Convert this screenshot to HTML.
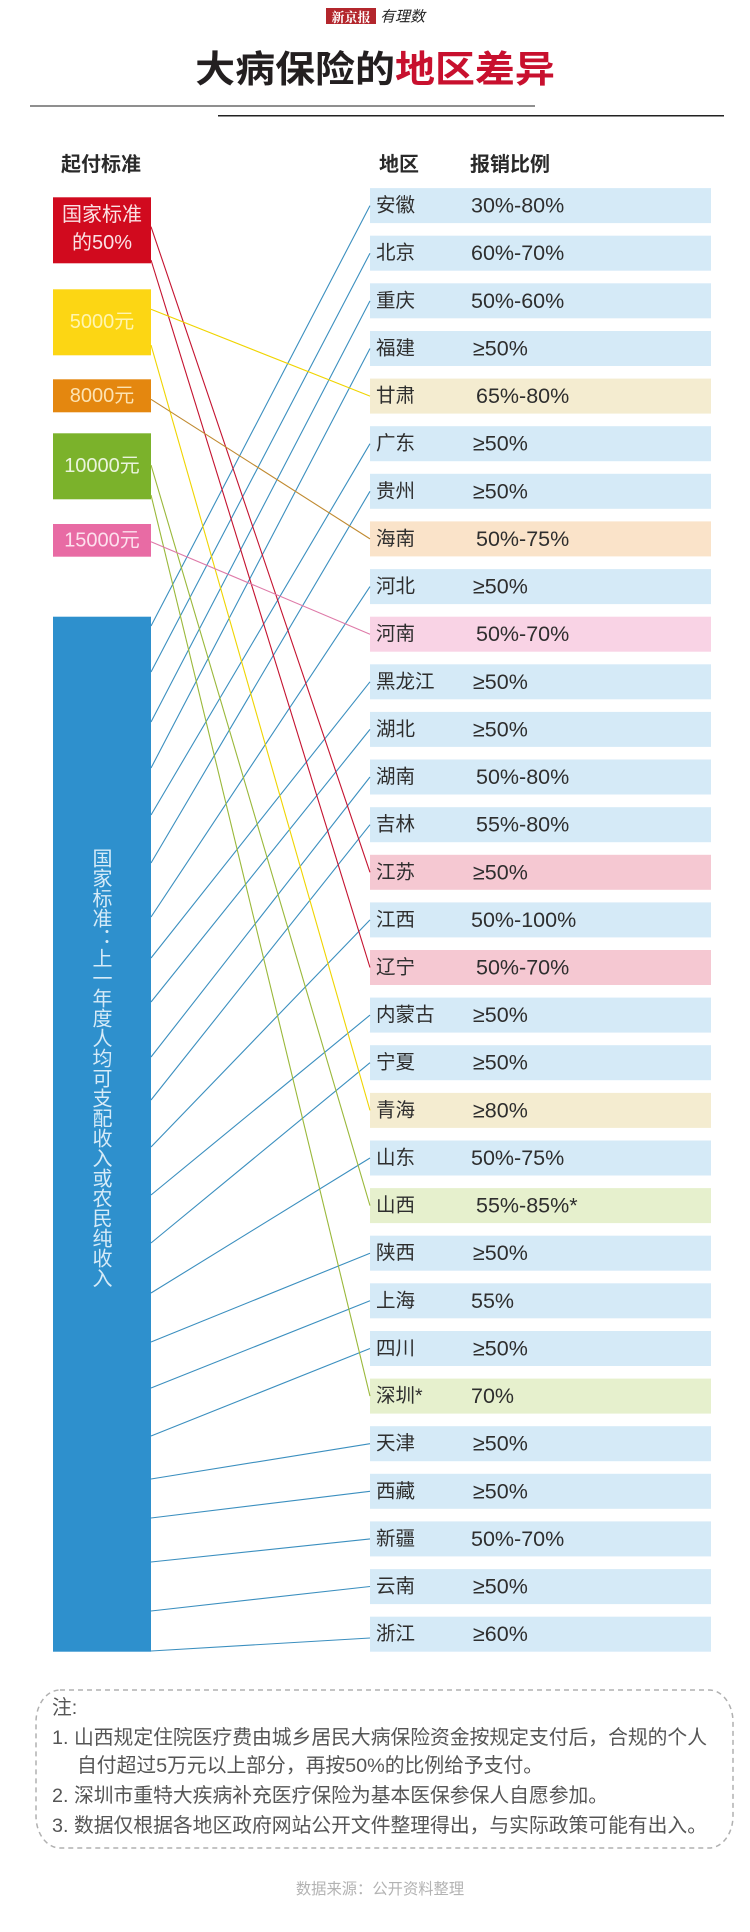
<!DOCTYPE html>
<html><head><meta charset="utf-8">
<style>
html,body{margin:0;padding:0;background:#fff;}
#p{position:relative;width:750px;height:1932px;overflow:hidden;background:#fff;font-family:"Liberation Sans","Noto Sans CJK SC",sans-serif;}
.ab{position:absolute;white-space:nowrap;}
</style></head><body>
<div id="p">
<svg width="750" height="1932" viewBox="0 0 750 1932" style="position:absolute;left:0;top:0" font-family="Liberation Sans, Noto Sans CJK SC, sans-serif">
  <!-- logo -->
  <rect x="326" y="8" width="50" height="16" fill="#b3262c"/>
  <text x="351" y="16.5" font-size="13" fill="#fff" font-weight="bold" text-anchor="middle" dominant-baseline="central" font-family="Noto Serif CJK SC, serif">新京报</text>
  <text x="380" y="16" font-size="15" fill="#222" font-style="italic" dominant-baseline="central" font-family="Noto Sans CJK SC, sans-serif">有理数</text>
  <!-- rules -->
  <line x1="30" y1="106" x2="535" y2="106" stroke="#6a6a6a" stroke-width="1.5"/>
  <line x1="218" y1="115.7" x2="724" y2="115.7" stroke="#222" stroke-width="1.5"/>
  <!-- headers -->
  <text x="61" y="165" font-size="20" font-weight="bold" fill="#2a2a2a" dominant-baseline="central">起付标准</text>
  <text x="379" y="165" font-size="20" font-weight="bold" fill="#2a2a2a" dominant-baseline="central">地区</text>
  <text x="470" y="165" font-size="20" font-weight="bold" fill="#2a2a2a" dominant-baseline="central">报销比例</text>

  <!-- left boxes -->
  <rect x="53" y="197.3" width="98" height="66" fill="#d10a1e"/>
  <text x="102" y="215" font-size="20" fill="#fbe1e4" text-anchor="middle" dominant-baseline="central">国家标准</text>
  <text x="102" y="243" font-size="20" fill="#fbe1e4" text-anchor="middle" dominant-baseline="central">的50%</text>
  <rect x="53" y="289.3" width="98" height="66" fill="#fcd614"/>
  <text x="102" y="322" font-size="20" fill="#fff5b0" text-anchor="middle" dominant-baseline="central">5000元</text>
  <rect x="53" y="379.3" width="98" height="33" fill="#e4870f"/>
  <text x="102" y="396" font-size="20" fill="#fde3b2" text-anchor="middle" dominant-baseline="central">8000元</text>
  <rect x="53" y="433.3" width="98" height="66" fill="#7bb22b"/>
  <text x="102" y="466" font-size="20" fill="#eaf4dc" text-anchor="middle" dominant-baseline="central">10000元</text>
  <rect x="53" y="524" width="98" height="32.7" fill="#e86ba4"/>
  <text x="102" y="540.5" font-size="20" fill="#fde1ee" text-anchor="middle" dominant-baseline="central">15000元</text>
  <rect x="53" y="616.7" width="98" height="1035" fill="#2e90cd"/>

  <!-- right rows -->
  <g>
    <rect x="370" y="188.1" width="341" height="35" fill="#d5eaf7"/>
    <rect x="370" y="235.7" width="341" height="35" fill="#d5eaf7"/>
    <rect x="370" y="283.3" width="341" height="35" fill="#d5eaf7"/>
    <rect x="370" y="331.0" width="341" height="35" fill="#d5eaf7"/>
    <rect x="370" y="378.6" width="341" height="35" fill="#f4ecd0"/>
    <rect x="370" y="426.2" width="341" height="35" fill="#d5eaf7"/>
    <rect x="370" y="473.8" width="341" height="35" fill="#d5eaf7"/>
    <rect x="370" y="521.4" width="341" height="35" fill="#fae3c9"/>
    <rect x="370" y="569.1" width="341" height="35" fill="#d5eaf7"/>
    <rect x="370" y="616.7" width="341" height="35" fill="#f9d3e5"/>
    <rect x="370" y="664.3" width="341" height="35" fill="#d5eaf7"/>
    <rect x="370" y="711.9" width="341" height="35" fill="#d5eaf7"/>
    <rect x="370" y="759.5" width="341" height="35" fill="#d5eaf7"/>
    <rect x="370" y="807.2" width="341" height="35" fill="#d5eaf7"/>
    <rect x="370" y="854.8" width="341" height="35" fill="#f5c8d2"/>
    <rect x="370" y="902.4" width="341" height="35" fill="#d5eaf7"/>
    <rect x="370" y="950.0" width="341" height="35" fill="#f5c8d2"/>
    <rect x="370" y="997.6" width="341" height="35" fill="#d5eaf7"/>
    <rect x="370" y="1045.2" width="341" height="35" fill="#d5eaf7"/>
    <rect x="370" y="1092.9" width="341" height="35" fill="#f4ecd0"/>
    <rect x="370" y="1140.5" width="341" height="35" fill="#d5eaf7"/>
    <rect x="370" y="1188.1" width="341" height="35" fill="#e6f0cd"/>
    <rect x="370" y="1235.7" width="341" height="35" fill="#d5eaf7"/>
    <rect x="370" y="1283.3" width="341" height="35" fill="#d5eaf7"/>
    <rect x="370" y="1331.0" width="341" height="35" fill="#d5eaf7"/>
    <rect x="370" y="1378.6" width="341" height="35" fill="#e6f0cd"/>
    <rect x="370" y="1426.2" width="341" height="35" fill="#d5eaf7"/>
    <rect x="370" y="1473.8" width="341" height="35" fill="#d5eaf7"/>
    <rect x="370" y="1521.4" width="341" height="35" fill="#d5eaf7"/>
    <rect x="370" y="1569.1" width="341" height="35" fill="#d5eaf7"/>
    <rect x="370" y="1616.7" width="341" height="35" fill="#d5eaf7"/>
  </g>

  <!-- blue lines -->
  <g stroke="#3b8fbf" stroke-width="1.1" fill="none">
    <line x1="151" y1="626" x2="370" y2="205.6"/>
    <line x1="151" y1="672" x2="370" y2="253.2"/>
    <line x1="151" y1="722" x2="370" y2="300.9"/>
    <line x1="151" y1="768" x2="370" y2="348.5"/>
    <line x1="151" y1="815" x2="370" y2="443.7"/>
    <line x1="151" y1="863" x2="370" y2="491.3"/>
    <line x1="151" y1="917" x2="370" y2="586.6"/>
    <line x1="151" y1="958" x2="370" y2="681.8"/>
    <line x1="151" y1="1002" x2="370" y2="729.4"/>
    <line x1="151" y1="1057" x2="370" y2="777.0"/>
    <line x1="151" y1="1100" x2="370" y2="824.7"/>
    <line x1="151" y1="1147" x2="370" y2="919.9"/>
    <line x1="151" y1="1195" x2="370" y2="1015.1"/>
    <line x1="151" y1="1243" x2="370" y2="1062.7"/>
    <line x1="151" y1="1293" x2="370" y2="1158.0"/>
    <line x1="151" y1="1342" x2="370" y2="1253.2"/>
    <line x1="151" y1="1388" x2="370" y2="1300.8"/>
    <line x1="151" y1="1436" x2="370" y2="1348.5"/>
    <line x1="151" y1="1479" x2="370" y2="1443.7"/>
    <line x1="151" y1="1518" x2="370" y2="1491.3"/>
    <line x1="151" y1="1562" x2="370" y2="1538.9"/>
    <line x1="151" y1="1611" x2="370" y2="1586.5"/>
    <line x1="151" y1="1651" x2="370" y2="1638"/>
  </g>
  <!-- colored lines -->
  <g stroke-width="1.1" fill="none">
    <line x1="151" y1="226.7" x2="370" y2="872.3" stroke="#c4122f"/>
    <line x1="151" y1="260" x2="370" y2="967.5" stroke="#c4122f"/>
    <line x1="151" y1="309.3" x2="370" y2="396.1" stroke="#f0d400"/>
    <line x1="151" y1="345" x2="370" y2="1110.4" stroke="#f0d400"/>
    <line x1="151" y1="399.3" x2="370" y2="538.9" stroke="#c08a30"/>
    <line x1="151" y1="465" x2="370" y2="1205.6" stroke="#9ab83a"/>
    <line x1="151" y1="495" x2="370" y2="1396.1" stroke="#9ab83a"/>
    <line x1="151" y1="541.7" x2="370" y2="634.2" stroke="#de7aa8"/>
  </g>

  <!-- region names -->
  <g font-size="19.5" fill="#2e2e2e" dominant-baseline="central">
    <text x="376" y="205.6">安徽</text>
    <text x="376" y="253.2">北京</text>
    <text x="376" y="300.9">重庆</text>
    <text x="376" y="348.5">福建</text>
    <text x="376" y="396.1">甘肃</text>
    <text x="376" y="443.7">广东</text>
    <text x="376" y="491.3">贵州</text>
    <text x="376" y="538.9">海南</text>
    <text x="376" y="586.6">河北</text>
    <text x="376" y="634.2">河南</text>
    <text x="376" y="681.8">黑龙江</text>
    <text x="376" y="729.4">湖北</text>
    <text x="376" y="777.0">湖南</text>
    <text x="376" y="824.7">吉林</text>
    <text x="376" y="872.3">江苏</text>
    <text x="376" y="919.9">江西</text>
    <text x="376" y="967.5">辽宁</text>
    <text x="376" y="1015.1">内蒙古</text>
    <text x="376" y="1062.7">宁夏</text>
    <text x="376" y="1110.4">青海</text>
    <text x="376" y="1158.0">山东</text>
    <text x="376" y="1205.6">山西</text>
    <text x="376" y="1253.2">陕西</text>
    <text x="376" y="1300.8">上海</text>
    <text x="376" y="1348.5">四川</text>
    <text x="376" y="1396.1">深圳*</text>
    <text x="376" y="1443.7">天津</text>
    <text x="376" y="1491.3">西藏</text>
    <text x="376" y="1538.9">新疆</text>
    <text x="376" y="1586.5">云南</text>
    <text x="376" y="1634.2">浙江</text>
  </g>
  <!-- values -->
  <g font-size="21.5" fill="#2e2e2e" dominant-baseline="central">
    <text x="471" y="205.6">30%-80%</text>
    <text x="471" y="253.2">60%-70%</text>
    <text x="471" y="300.9">50%-60%</text>
    <text x="473" y="348.5">≥50%</text>
    <text x="476" y="396.1">65%-80%</text>
    <text x="473" y="443.7">≥50%</text>
    <text x="473" y="491.3">≥50%</text>
    <text x="476" y="538.9">50%-75%</text>
    <text x="473" y="586.6">≥50%</text>
    <text x="476" y="634.2">50%-70%</text>
    <text x="473" y="681.8">≥50%</text>
    <text x="473" y="729.4">≥50%</text>
    <text x="476" y="777.0">50%-80%</text>
    <text x="476" y="824.7">55%-80%</text>
    <text x="473" y="872.3">≥50%</text>
    <text x="471" y="919.9">50%-100%</text>
    <text x="476" y="967.5">50%-70%</text>
    <text x="473" y="1015.1">≥50%</text>
    <text x="473" y="1062.7">≥50%</text>
    <text x="473" y="1110.4">≥80%</text>
    <text x="471" y="1158.0">50%-75%</text>
    <text x="476" y="1205.6">55%-85%*</text>
    <text x="473" y="1253.2">≥50%</text>
    <text x="471" y="1300.8">55%</text>
    <text x="473" y="1348.5">≥50%</text>
    <text x="471" y="1396.1">70%</text>
    <text x="473" y="1443.7">≥50%</text>
    <text x="473" y="1491.3">≥50%</text>
    <text x="471" y="1538.9">50%-70%</text>
    <text x="473" y="1586.5">≥50%</text>
    <text x="473" y="1634.2">≥60%</text>
  </g>

  <!-- note box -->
  <rect x="36" y="1690" width="697" height="158" rx="24" ry="32" fill="none" stroke="#b0b0b0" stroke-width="1.5" stroke-dasharray="5 4"/>
</svg>

<!-- title -->
<div class="ab" style="left:0;top:44px;width:750px;text-align:center;font-size:37px;line-height:44px;font-weight:bold;font-family:'Noto Sans CJK SC',sans-serif;color:#231f20;transform:scaleX(1.08);transform-origin:375px 0;">大病保险的<span style="color:#c8102e">地区差异</span></div>

<!-- vertical text in blue bar -->
<div class="ab" style="left:53px;top:848px;width:98px;height:450px;writing-mode:vertical-rl;font-size:20px;line-height:98px;color:#d6ebf8;font-family:'Noto Sans CJK SC',sans-serif;">国家标准：上一年度人均可支配收入或农民纯收入</div>

<!-- notes -->
<div class="ab" style="left:52px;top:1694px;font-size:19.8px;line-height:29.5px;color:#555;">注:</div>
<div class="ab" style="left:52px;top:1724px;font-size:19.8px;line-height:29.5px;color:#555;">1. 山西规定住院医疗费由城乡居民大病保险资金按规定支付后，合规的个人</div>
<div class="ab" style="left:77px;top:1752px;font-size:19.8px;line-height:29.5px;color:#555;">自付超过5万元以上部分，再按50%的比例给予支付。</div>
<div class="ab" style="left:52px;top:1782px;font-size:19.8px;line-height:29.5px;color:#555;">2. 深圳市重特大疾病补充医疗保险为基本医保参保人自愿参加。</div>
<div class="ab" style="left:52px;top:1812px;font-size:19.8px;line-height:29.5px;color:#555;">3. 数据仅根据各地区政府网站公开文件整理得出，与实际政策可能有出入。</div>

<!-- footer -->
<div class="ab" style="left:0;top:1880px;width:760px;text-align:center;font-size:15.3px;line-height:20px;color:#b3b3b3;">数据来源：公开资料整理</div>
</div>
</body></html>
